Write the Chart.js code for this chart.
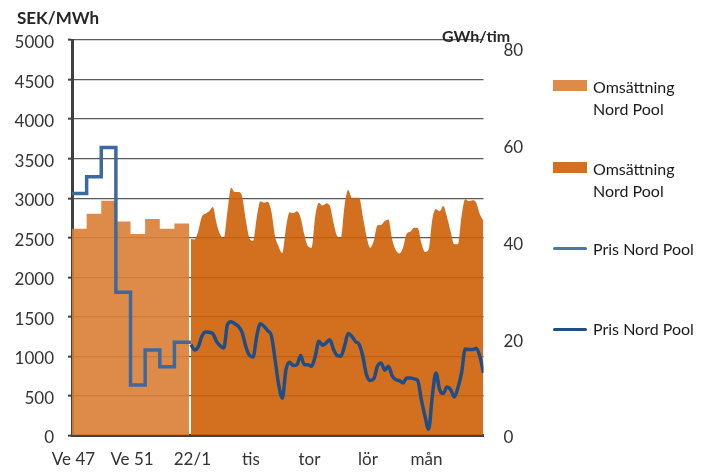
<!DOCTYPE html>
<html>
<head>
<meta charset="utf-8">
<script src="https://cdn.jsdelivr.net/npm/chart.js@4.4.1/dist/chart.umd.min.js"></script>
<style>
  body { margin: 0; background: #fff; font-family: Lato, sans-serif; }
  #wrap { position: relative; width: 709px; height: 473px; overflow: hidden; }
  canvas { position: absolute; left: 0; top: 0; }
  .title { position: absolute; font-weight: bold; font-size: 17px; color: #262626; line-height: 20px; white-space: nowrap; }
  .leg { position: absolute; left: 553px; font-size: 16px; color: #1a1a1a; }
  .leg .key { position: absolute; left: 0; width: 34px; }
  .leg .txt { position: absolute; left: 40px; top: 0; line-height: 22px; white-space: nowrap; }
</style>
</head>
<body>
<div id="wrap">
  <canvas id="chart" width="709" height="473"></canvas>
  <div class="title" style="left:17px; top:8px;">SEK/MWh</div>
  <div class="title" style="left:442px; top:26px; font-size:16px;">GWh/tim</div>

  <div class="leg" style="top:76px;">
    <div class="key" style="top:3.5px; height:11px; background:#de8a48;"></div>
    <div class="txt">Omsättning<br>Nord Pool</div>
  </div>
  <div class="leg" style="top:158px;">
    <div class="key" style="top:3.5px; height:11px; background:#d37021;"></div>
    <div class="txt">Omsättning<br>Nord Pool</div>
  </div>
  <div class="leg" style="top:238px;">
    <div class="key" style="top:8.5px; height:3.5px; border-radius:2px; background:#4a78a8;"></div>
    <div class="txt">Pris Nord Pool</div>
  </div>
  <div class="leg" style="top:318px;">
    <div class="key" style="top:9.5px; height:3.5px; border-radius:2px; background:#1f4e87;"></div>
    <div class="txt">Pris Nord Pool</div>
  </div>
</div>

<script>
// Weekly values, Ve 47 - Ve 2
const weekTurnover = [42.7, 45.8, 48.5, 44.2, 41.6, 44.7, 42.7, 43.8]; // GWh/tim
const weekPrice = [3060, 3270, 3640, 1810, 640, 1080, 870, 1180];     // SEK/MWh

// Values from 22/1, every third hour
const hourTurnover = [
  40.6, 40.5, 42.2, 45.2, 45.8, 46.3, 47.2, 43.9, 41.5, 40.8,
  46.3, 51.2, 50.3, 50.3, 49.4, 44.6, 40.8, 40.2, 45.0, 48.4,
  48.1, 48.3, 46.3, 41.2, 39.0, 37.7, 42.9, 46.1, 45.9, 46.3,
  45.0, 41.5, 39.1, 38.8, 45.3, 48.1, 47.5, 47.9, 47.4, 43.9,
  41.2, 40.8, 47.4, 50.7, 49.1, 49.1, 49.1, 45.3, 41.2, 38.8,
  40.2, 43.4, 43.5, 44.3, 44.6, 40.6, 38.3, 37.6, 38.8, 41.7,
  42.1, 42.9, 42.9, 39.8, 37.9, 38.4, 44.6, 46.8, 46.3, 47.4,
  45.2, 42.2, 39.5, 39.5, 45.3, 48.8, 48.4, 48.6, 48.1, 45.7,
  44.3
];
const hourPrice = [
  1149, 1082, 1120, 1254, 1309, 1305, 1288, 1191, 1136, 1107,
  1402, 1439, 1414, 1380, 1305, 1128, 1014, 993, 1254, 1414,
  1380, 1326, 1263, 968, 644, 471, 833, 926, 884, 896,
  1010, 896, 896, 875, 1002, 1191, 1141, 1170, 1212, 1086,
  1010, 1002, 1128, 1288, 1254, 1187, 1153, 1002, 770, 694,
  716, 875, 918, 825, 875, 758, 707, 694, 665, 728,
  728, 716, 698, 455, 244, 80, 497, 791, 581, 530,
  614, 581, 488, 602, 791, 1094, 1086, 1086, 1103, 1002,
  791
];

const xTickLabels = ['Ve 47', 'Ve 51', '22/1', 'tis', 'tor', 'lör', 'mån'];
const rightTicks = [0, 20, 40, 60, 80];

// x positions: one week = 12 units, hourly part starts after a small gap
const WEEK_W = 12;
const HOUR0 = weekTurnover.length * WEEK_W + 1.5;
const STEP_H = 3;
const xMax = HOUR0 + (hourTurnover.length - 1) * STEP_H;
const xTickPos = [0, 4 * WEEK_W, HOUR0, HOUR0 + 48, HOUR0 + 96, HOUR0 + 144, HOUR0 + 192];

const weekly = (arr, endX) => arr.map((v, i) => ({ x: i * WEEK_W, y: v }))
  .concat([{ x: endX, y: arr[arr.length - 1] }]);
const hourly = arr => arr.map((v, i) => ({ x: HOUR0 + i * STEP_H, y: v }));

const tickFont = { family: 'Lato', size: 17 };

new Chart(document.getElementById('chart'), {
  type: 'line',
  data: {
    datasets: [
      {
        label: 'Pris Nord Pool',
        data: weekly(weekPrice, HOUR0),
        yAxisID: 'y',
        stepped: true,
        borderColor: '#3d6a9e',
        borderWidth: 3.5,
        pointRadius: 0,
        fill: false,
        order: 1
      },
      {
        label: 'Pris Nord Pool',
        data: hourly(hourPrice),
        yAxisID: 'y',
        cubicInterpolationMode: 'monotone',
        borderColor: '#1f4e87',
        borderWidth: 3.5,
        pointRadius: 0,
        fill: false,
        order: 1
      },
      {
        label: 'Omsättning Nord Pool',
        data: weekly(weekTurnover, weekTurnover.length * WEEK_W),
        yAxisID: 'y1',
        stepped: true,
        borderWidth: 0,
        pointRadius: 0,
        backgroundColor: 'rgba(218, 125, 52, 0.9)',
        fill: 'origin',
        order: 2
      },
      {
        label: 'Omsättning Nord Pool',
        data: hourly(hourTurnover),
        yAxisID: 'y1',
        cubicInterpolationMode: 'monotone',
        borderWidth: 0,
        pointRadius: 0,
        backgroundColor: 'rgba(206, 96, 8, 0.9)',
        fill: 'origin',
        order: 2
      }
    ]
  },
  options: {
    responsive: false,
    animation: false,
    layout: { padding: { top: 40, left: 0, right: 0, bottom: 0 } },
    plugins: { legend: { display: false }, tooltip: { enabled: false } },
    scales: {
      x: {
        type: 'linear',
        min: 0,
        max: xMax,
        grid: { display: false, drawTicks: false },
        border: { display: true, color: '#404040', width: 3 },
        afterBuildTicks: s => { s.ticks = xTickPos.map(v => ({ value: v })); },
        afterFit: s => { s.height = 37.5; },
        ticks: {
          autoSkip: false,
          maxRotation: 0,
          padding: 14,
          labelOffset: 1.5,
          color: '#333',
          font: tickFont,
          callback: (v, i) => xTickLabels[i]
        }
      },
      y: {
        position: 'left',
        min: 0,
        max: 5000,
        grid: {
          color: '#5a5a5a',
          lineWidth: 1.3,
          drawTicks: true,
          tickLength: 4,
          tickColor: '#404040',
          tickWidth: 2
        },
        border: { display: true, color: '#404040', width: 3 },
        afterFit: s => { s.width = 72; },
        ticks: {
          stepSize: 500,
          padding: 14,
          labelOffset: 2.5,
          color: '#333',
          font: tickFont,
          callback: v => String(v)
        }
      },
      y1: {
        position: 'right',
        min: 0,
        max: 81.7,
        grid: { display: false, drawTicks: false },
        border: { display: false },
        afterBuildTicks: s => { s.ticks = rightTicks.map(v => ({ value: v })); },
        afterFit: s => { s.width = 225.5; },
        ticks: { padding: 20, labelOffset: 2.5, color: '#333', font: tickFont }
      }
    }
  }
});
</script>
</body>
</html>
